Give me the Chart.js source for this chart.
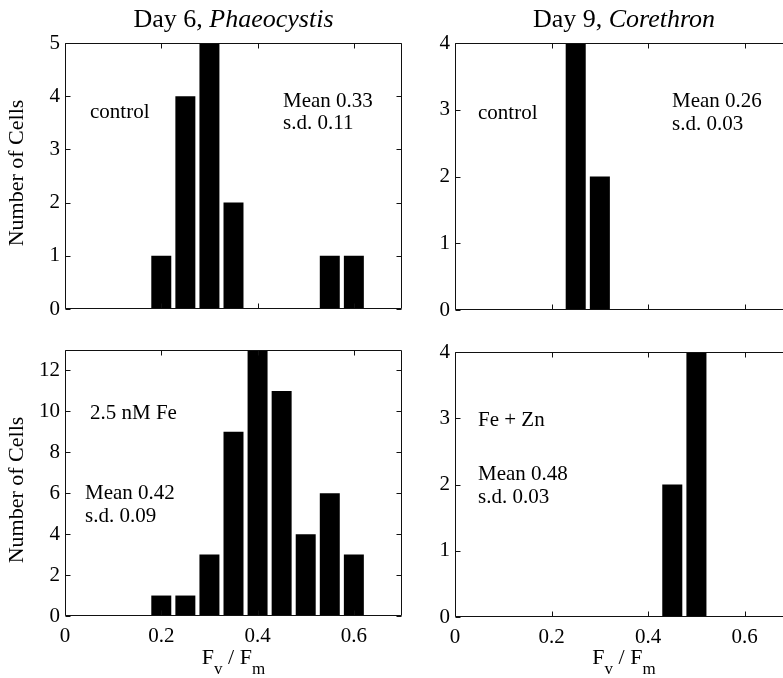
<!DOCTYPE html>
<html>
<head>
<meta charset="utf-8">
<script src="https://cdn.jsdelivr.net/npm/chart.js@4/dist/chart.umd.min.js"></script>
<style>
  html, body { margin: 0; padding: 0; width: 783px; height: 678px; overflow: hidden; background: #fff; }
  canvas { position: absolute; left: 0; top: 0; }
</style>
</head>
<body>
<canvas id="day6Control" width="820" height="678"></canvas>
<canvas id="day9Control" width="820" height="678"></canvas>
<canvas id="day6Fe" width="820" height="678"></canvas>
<canvas id="day9FeZn" width="820" height="678"></canvas>
<script>
// Histogram bin centres of Fv/Fm (bin width 0.05)
const binCenters = [0.2, 0.25, 0.3, 0.35, 0.4, 0.45, 0.5, 0.55, 0.6];

// Number of cells per bin
const day6ControlCounts = [1, 4, 5, 2, 0, 0, 0, 1, 1];
const day6FeCounts      = [1, 1, 3, 9, 13, 11, 4, 6, 3];
const day9ControlCounts = [0, 4, 2, 0, 0, 0, 0, 0, 0];
const day9FeZnCounts    = [0, 0, 0, 0, 0, 2, 4, 0, 0];

// Axis ticks and limits
const xTickValues = [0, 0.2, 0.4, 0.6];
const xMax = 0.7;
const yTicksDay6Control = [0, 1, 2, 3, 4, 5];
const yTicksDay6Fe = [0, 2, 4, 6, 8, 10, 12];
const yTicksDay9 = [0, 1, 2, 3, 4];
const yMaxDay6Control = 5;
const yMaxDay6Fe = 13;
const yMaxDay9 = 4;

// Column titles: [upright part, italic genus]
const titleDay6 = ['Day 6, ', 'Phaeocystis'];
const titleDay9 = ['Day 9, ', 'Corethron'];

// Panel annotations
const notesDay6Control = ['control', 'Mean 0.33', 's.d. 0.11'];
const notesDay9Control = ['control', 'Mean 0.26', 's.d. 0.03'];
const notesDay6Fe      = ['2.5 nM Fe', 'Mean 0.42', 's.d. 0.09'];
const notesDay9FeZn    = ['Fe + Zn', 'Mean 0.48', 's.d. 0.03'];

const yAxisTitle = 'Number of Cells';

const SERIF = '"Liberation Serif", "Times New Roman", serif';
Chart.defaults.font.family = SERIF;
Chart.defaults.color = '#000';

const CANVAS_W = 820, CANVAS_H = 678;
const Y_AXIS_W = 45, X_AXIS_H = 40;

// Draws the boxed frame, inward ticks, titles and notes of a panel
const panelDecor = {
  id: 'panelDecor',
  afterDatasetsDraw(chart, args, opts) {
    const ctx = chart.ctx;
    const a = chart.chartArea;
    const xs = chart.scales.x, ys = chart.scales.y;
    ctx.save();
    ctx.strokeStyle = '#111';
    ctx.lineWidth = 1;
    const L = Math.round(a.left) + 0.5, R = Math.round(a.right) - 0.5;
    const T = Math.round(a.top) + 0.5, B = Math.round(a.bottom) - 0.5;
    ctx.beginPath();
    ctx.rect(L, T, R - L, B - T);
    const tl = 5;
    xs.ticks.forEach(t => {
      const px = Math.round(xs.getPixelForValue(t.value)) + 0.5;
      ctx.moveTo(px, B); ctx.lineTo(px, B - tl);
      ctx.moveTo(px, T); ctx.lineTo(px, T + tl);
    });
    ys.ticks.forEach(t => {
      const py = Math.round(ys.getPixelForValue(t.value)) + 0.5;
      ctx.moveTo(L, py); ctx.lineTo(L + tl, py);
      ctx.moveTo(R, py); ctx.lineTo(R - tl, py);
    });
    ctx.stroke();

    ctx.fillStyle = '#000';
    ctx.textAlign = 'left';
    ctx.textBaseline = 'alphabetic';

    // column title with italic genus name
    if (opts.title) {
      const f1 = '26px ' + SERIF, f2 = 'italic 26px ' + SERIF;
      ctx.font = f1; const w1 = ctx.measureText(opts.title[0]).width;
      ctx.font = f2; const w2 = ctx.measureText(opts.title[1]).width;
      let x = (a.left + a.right) / 2 - (w1 + w2) / 2;
      ctx.font = f1; ctx.fillText(opts.title[0], x, opts.titleY);
      ctx.font = f2; ctx.fillText(opts.title[1], x + w1, opts.titleY);
    }

    // y-axis title
    if (opts.yLabel) {
      ctx.save();
      ctx.font = '22px ' + SERIF;
      ctx.translate(opts.yLabelX, a.top + opts.yLabelDy);
      ctx.rotate(-Math.PI / 2);
      ctx.textAlign = 'center';
      ctx.fillText(opts.yLabel, 0, 0);
      ctx.restore();
    }

    // x-axis title Fv / Fm
    if (opts.xLabel) {
      const big = '22px ' + SERIF, small = '17px ' + SERIF;
      const parts = [['F', big, 0], ['v', small, 10], [' / ', big, 0], ['F', big, 0], ['m', small, 10]];
      let total = 0;
      parts.forEach(p => { ctx.font = p[1]; p.push(ctx.measureText(p[0]).width); total += p[3]; });
      let x = (a.left + a.right) / 2 - total / 2;
      parts.forEach(p => {
        ctx.font = p[1];
        ctx.fillText(p[0], x, opts.xLabelY + p[2]);
        x += p[3];
      });
    }

    // notes inside the panel
    ctx.font = '21px ' + SERIF;
    ctx.textAlign = 'left';
    opts.notes.forEach((txt, i) => {
      const pos = opts.notePos[i];
      ctx.fillText(txt, a.left + pos[0], a.top + pos[1]);
    });
    ctx.restore();
  }
};

function makePanel(id, counts, box, yTicks, yMax, showXLabels, decor) {
  const padding = {
    left: box.left - Y_AXIS_W,
    top: box.top,
    right: CANVAS_W - box.right,
    bottom: CANVAS_H - box.bottom - X_AXIS_H
  };
  return new Chart(document.getElementById(id), {
    type: 'bar',
    data: {
      datasets: [{
        data: binCenters.map((b, i) => ({ x: b, y: counts[i] })),
        backgroundColor: '#000',
        borderWidth: 0,
        barPercentage: 0.83,
        categoryPercentage: 1.0
      }]
    },
    options: {
      responsive: false,
      devicePixelRatio: 1,
      animation: false,
      events: [],
      layout: { padding },
      plugins: {
        legend: { display: false },
        tooltip: { enabled: false },
        title: { display: false },
        panelDecor: decor
      },
      scales: {
        x: {
          type: 'linear',
          min: 0,
          max: xMax,
          offset: false,
          grid: { display: false, drawTicks: false },
          border: { display: false },
          afterBuildTicks: s => { s.ticks = xTickValues.map(v => ({ value: v })); },
          afterFit: s => { s.height = X_AXIS_H; s.paddingLeft = 0; s.paddingRight = 0; },
          ticks: {
            display: showXLabels,
            padding: 8,
            font: { size: 21 },
            callback: v => (v === 0 ? '0' : v.toFixed(1))
          }
        },
        y: {
          type: 'linear',
          min: 0,
          max: yMax,
          grid: { display: false, drawTicks: false },
          border: { display: false },
          afterBuildTicks: s => { s.ticks = yTicks.map(v => ({ value: v })); },
          afterFit: s => { s.width = Y_AXIS_W; s.paddingTop = 0; s.paddingBottom = 0; },
          ticks: { padding: 5, font: { size: 21 } }
        }
      }
    },
    plugins: [panelDecor]
  });
}

makePanel('day6Control', day6ControlCounts, { left: 65, top: 43, right: 402, bottom: 309 },
  yTicksDay6Control, yMaxDay6Control, false, {
    title: titleDay6, titleY: 27,
    yLabel: yAxisTitle, yLabelX: 23, yLabelDy: 130,
    notes: notesDay6Control, notePos: [[25, 75], [218, 64], [218, 86]]
  });

makePanel('day9Control', day9ControlCounts, { left: 455, top: 43, right: 793, bottom: 310 },
  yTicksDay9, yMaxDay9, false, {
    title: titleDay9, titleY: 27,
    notes: notesDay9Control, notePos: [[23, 76], [217, 64], [217, 87]]
  });

makePanel('day6Fe', day6FeCounts, { left: 65, top: 350, right: 402, bottom: 616 },
  yTicksDay6Fe, yMaxDay6Fe, true, {
    yLabel: yAxisTitle, yLabelX: 23, yLabelDy: 140,
    xLabel: true, xLabelY: 664,
    notes: notesDay6Fe, notePos: [[25, 69], [20, 149], [20, 172]]
  });

makePanel('day9FeZn', day9FeZnCounts, { left: 455, top: 352, right: 793, bottom: 617 },
  yTicksDay9, yMaxDay9, true, {
    xLabel: true, xLabelY: 664,
    notes: notesDay9FeZn, notePos: [[23, 74], [23, 128], [23, 151]]
  });
</script>
</body>
</html>
